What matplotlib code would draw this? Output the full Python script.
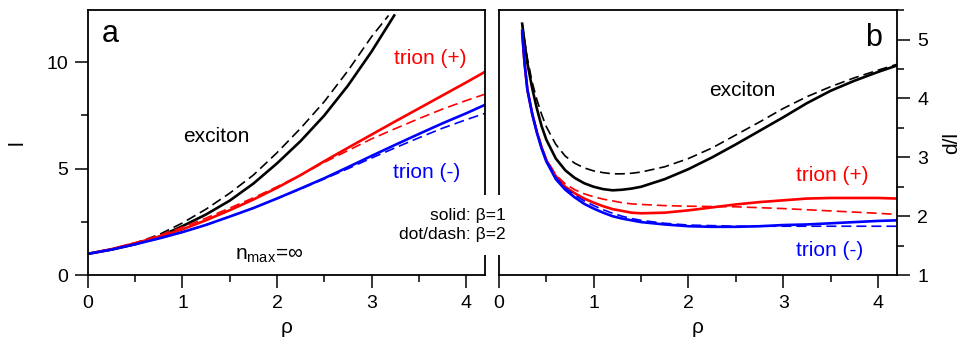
import numpy as np
import matplotlib
matplotlib.use('Agg')
import matplotlib.pyplot as plt
from matplotlib.ticker import MultipleLocator

plt.rcParams['font.family'] = ['Liberation Sans', 'DejaVu Sans']
plt.rcParams['mathtext.fontset'] = 'custom'
plt.rcParams['mathtext.rm'] = 'Liberation Sans'

# panel a : l vs rho
rho_a = [0, 0.25, 0.5, 0.75, 1.0, 1.25, 1.5, 1.75, 2.0, 2.25, 2.5, 2.75, 3.0, 3.25, 3.5, 3.75, 4.0, 4.2]
tm_sol = [1.0, 1.2, 1.45, 1.72, 2.02, 2.36, 2.75, 3.15, 3.6, 4.07, 4.55, 5.07, 5.6, 6.12, 6.63, 7.13, 7.6, 8.0]
tm_dash = [1.0, 1.2, 1.45, 1.72, 2.02, 2.36, 2.75, 3.15, 3.6, 4.05, 4.52, 5.0, 5.5, 5.98, 6.45, 6.9, 7.3, 7.6]
tp_sol = [1.0, 1.22, 1.5, 1.8, 2.15, 2.58, 3.05, 3.55, 4.1, 4.7, 5.35, 5.98, 6.6, 7.22, 7.83, 8.44, 9.05, 9.55]
tp_dash = [1.0, 1.23, 1.52, 1.86, 2.25, 2.68, 3.15, 3.63, 4.15, 4.7, 5.3, 5.85, 6.4, 6.88, 7.35, 7.8, 8.2, 8.5]
ex_rho = [0, 0.25, 0.5, 0.75, 1.0, 1.25, 1.5, 1.75, 2.0, 2.25, 2.5, 2.75, 3.0, 3.24]
ex_sol = [1.0, 1.2, 1.45, 1.8, 2.3, 2.85, 3.5, 4.3, 5.25, 6.3, 7.5, 8.9, 10.5, 12.2]
exd_rho = [0, 0.25, 0.5, 0.75, 1.0, 1.25, 1.5, 1.75, 2.0, 2.25, 2.5, 2.75, 3.0, 3.18]
ex_dash = [1.0, 1.22, 1.5, 1.9, 2.45, 3.1, 3.85, 4.7, 5.75, 6.9, 8.15, 9.6, 11.2, 12.2]

# panel b : d/l vs rho
rho_b = [0.245, 0.27, 0.3, 0.35, 0.4, 0.45, 0.5, 0.6, 0.7, 0.8, 0.9, 1.0, 1.1, 1.2, 1.3, 1.4,
         1.5, 1.75, 2.0, 2.25, 2.5, 2.75, 3.0, 3.25, 3.5, 3.75, 4.0, 4.2]
exb_sol = [5.27, 4.95, 4.6, 4.18, 3.83, 3.53, 3.3, 2.98, 2.78, 2.65, 2.56, 2.5, 2.46, 2.44, 2.45, 2.47,
           2.5, 2.63, 2.8, 3.0, 3.22, 3.45, 3.68, 3.92, 4.13, 4.3, 4.45, 4.56]
exb_dash = [5.27, 5.0, 4.68, 4.28, 3.98, 3.73, 3.52, 3.22, 3.02, 2.9, 2.82, 2.77, 2.74, 2.72, 2.72, 2.73,
            2.75, 2.84, 2.98, 3.16, 3.38, 3.6, 3.83, 4.03, 4.2, 4.35, 4.48, 4.58]
tpb_sol = [5.1, 4.6, 4.15, 3.75, 3.43, 3.17, 2.95, 2.68, 2.5, 2.39, 2.3, 2.23, 2.17, 2.12, 2.09, 2.06,
           2.05, 2.06, 2.1, 2.15, 2.2, 2.24, 2.27, 2.3, 2.31, 2.31, 2.31, 2.3]
tpb_dash = [5.1, 4.6, 4.15, 3.76, 3.45, 3.19, 2.97, 2.7, 2.55, 2.45, 2.38, 2.33, 2.29, 2.26, 2.23, 2.21,
            2.2, 2.18, 2.17, 2.165, 2.16, 2.145, 2.13, 2.11, 2.09, 2.07, 2.05, 2.03]
tmb_sol = [5.15, 4.6, 4.15, 3.74, 3.42, 3.15, 2.93, 2.63, 2.45, 2.32, 2.21, 2.13, 2.06, 2.0, 1.96, 1.93,
           1.9, 1.86, 1.83, 1.82, 1.82, 1.83, 1.85, 1.86, 1.88, 1.9, 1.92, 1.93]
tmb_dash = [5.15, 4.6, 4.15, 3.75, 3.43, 3.17, 2.95, 2.66, 2.48, 2.36, 2.26, 2.18, 2.11, 2.05, 2.0, 1.96,
            1.93, 1.88, 1.85, 1.84, 1.83, 1.83, 1.83, 1.83, 1.83, 1.83, 1.83, 1.83]

fig = plt.figure(figsize=(9.73, 3.5), dpi=100)
ax1 = fig.add_axes([0.0904, 0.214, 0.408, 0.757])
ax2 = fig.add_axes([0.5128, 0.214, 0.409, 0.757])

lw_s = 1.9
lw_d = 1.2
dsh = (6, 3)

ax1.plot(ex_rho, ex_sol, color='black', lw=lw_s)
ax1.plot(exd_rho, ex_dash, color='black', lw=lw_d, dashes=dsh)
ax1.plot(rho_a, tp_sol, color='red', lw=lw_s)
ax1.plot(rho_a, tp_dash, color='red', lw=lw_d, dashes=dsh)
ax1.plot(rho_a, tm_sol, color='blue', lw=lw_s)
ax1.plot(rho_a, tm_dash, color='blue', lw=lw_d, dashes=dsh)

ax2.plot(rho_b, exb_sol, color='black', lw=lw_s)
ax2.plot(rho_b, exb_dash, color='black', lw=lw_d, dashes=dsh)
ax2.plot(rho_b, tpb_sol, color='red', lw=lw_s)
ax2.plot(rho_b, tpb_dash, color='red', lw=lw_d, dashes=dsh)
ax2.plot(rho_b, tmb_sol, color='blue', lw=lw_s)
ax2.plot(rho_b, tmb_dash, color='blue', lw=lw_d, dashes=dsh)

ax1.set_xlim(0, 4.2)
ax1.set_ylim(0, 12.45)
ax2.set_xlim(0, 4.2)
ax2.set_ylim(1, 5.5)

for ax in (ax1, ax2):
    ax.xaxis.set_major_locator(MultipleLocator(1))
    ax.xaxis.set_minor_locator(MultipleLocator(0.5))
    ax.tick_params(which='major', direction='out', length=9.5, width=1.1, labelsize=14, pad=5)
    ax.tick_params(which='minor', direction='out', length=5, width=1.1)
    for s in ax.spines.values():
        s.set_linewidth(1.3)
    ax.set_xlabel('ρ', fontsize=15, labelpad=4)

ax1.yaxis.set_major_locator(MultipleLocator(5))
ax1.yaxis.set_minor_locator(MultipleLocator(2.5))
ax1.set_ylabel('l', fontsize=15, labelpad=14)

ax2.yaxis.set_major_locator(MultipleLocator(1))
ax2.yaxis.set_minor_locator(MultipleLocator(0.5))
ax2.yaxis.tick_right()
ax2.yaxis.set_label_position('right')
ax2.set_ylabel('d/l', fontsize=15, labelpad=10)

# labels panel a
ax1.text(0.035, 0.91, 'a', transform=ax1.transAxes, fontsize=22, va='center', ha='left')
ax1.text(1.36, 6.5, 'exciton', fontsize=15, ha='center', va='center')
ax1.text(3.62, 10.2, 'trion (+)', fontsize=15, ha='center', va='center', color='red')
ax1.text(3.58, 4.8, 'trion (-)', fontsize=15, ha='center', va='center', color='blue')
ax1.text(1.92, 0.9, r'n$_{\mathrm{max}}$=∞', fontsize=15, ha='center', va='center')

# labels panel b
ax2.text(0.94, 0.895, 'b', transform=ax2.transAxes, fontsize=22, va='center', ha='center')
ax2.text(2.57, 4.14, 'exciton', fontsize=15, ha='center', va='center')
ax2.text(3.52, 2.70, 'trion (+)', fontsize=15, ha='center', va='center', color='red')
ax2.text(3.49, 1.42, 'trion (-)', fontsize=15, ha='center', va='center', color='blue')

fig.text(0.52, 0.357, 'solid: β=1\ndot/dash: β=2', fontsize=12.5, ha='right', va='center',
         multialignment='right', linespacing=1.35,
         bbox=dict(facecolor='white', edgecolor='none', pad=9), zorder=10)

fig.savefig('out.png', dpi=100)
